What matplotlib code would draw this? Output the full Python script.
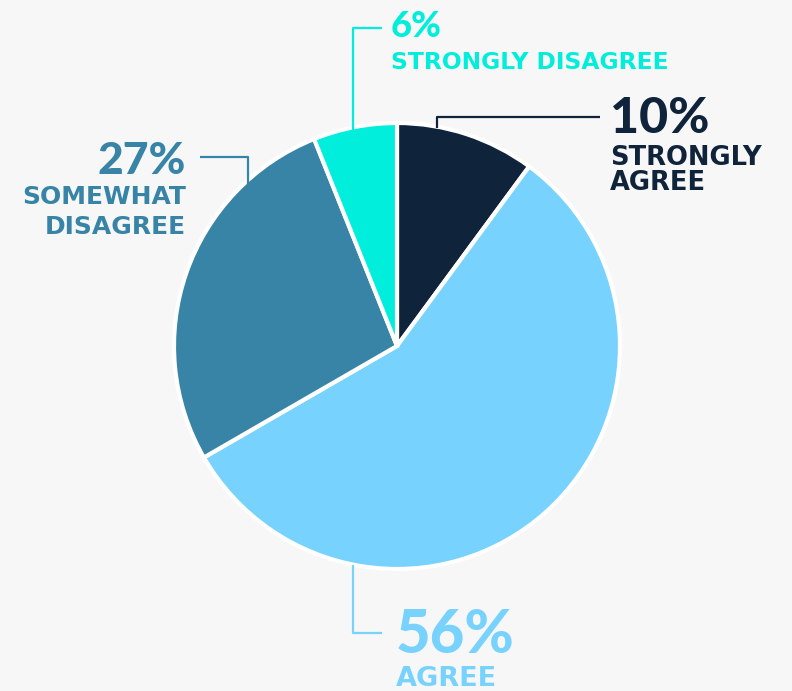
import matplotlib
matplotlib.use("Agg")
import matplotlib.pyplot as plt

# survey answers, clockwise from the top
labels = ["STRONGLY\nAGREE", "AGREE", "SOMEWHAT\nDISAGREE", "STRONGLY DISAGREE"]
percents = [10, 56, 27, 6]
colors = ["#0f233b", "#78d2fe", "#3784a6", "#00eedb"]

W, H = 792, 691
bg = "#f7f7f7"

fig = plt.figure(figsize=(W / 100, H / 100), dpi=100, facecolor=bg)
ax = fig.add_axes([0, 0, 1, 1])
ax.set_facecolor(bg)

def Y(y):
    # image-space y (top=0) to axis y
    return H - y

ax.pie(percents, colors=colors, startangle=90, counterclock=False,
       center=(397, Y(346)), radius=223,
       wedgeprops=dict(edgecolor="white", linewidth=3))

ax.set_xlim(0, W)
ax.set_ylim(0, H)
ax.set_aspect("equal")
ax.axis("off")

lw = 1.6

# leader lines
ax.plot([437, 437, 600], [Y(128), Y(117), Y(117)], color=colors[0], lw=lw, solid_capstyle="butt")
ax.plot([353, 353, 382], [Y(140), Y(28), Y(28)], color=colors[3], lw=lw, solid_capstyle="butt")
ax.plot([248, 248, 200], [Y(185), Y(157), Y(157)], color=colors[2], lw=lw, solid_capstyle="butt")
ax.plot([353, 353, 382], [Y(565), Y(633), Y(633)], color=colors[1], lw=lw, solid_capstyle="butt")

def label(x, y_pct, y_lines, pct, text, color, pct_size, txt_size, ha="left"):
    ax.text(x, Y(y_pct), f"{pct}%", color=color, fontsize=pct_size,
            fontweight="black", family="Lato", ha=ha, va="baseline")
    for yy, line in zip(y_lines, text.split("\n")):
        ax.text(x, Y(yy), line, color=color, fontsize=txt_size,
                fontweight="bold", family="DejaVu Sans", ha=ha, va="baseline")

label(610, 133, [165, 190], percents[0], labels[0], colors[0], 36, 18.5)
label(396, 653, [686], percents[1], labels[1], colors[1], 43, 19.5)
label(186, 174, [204, 234], percents[2], labels[2], colors[2], 32, 18, ha="right")
label(391, 37, [69], percents[3], labels[3], colors[3], 26, 16.8)

fig.savefig("out.png", dpi=100, facecolor=bg)
